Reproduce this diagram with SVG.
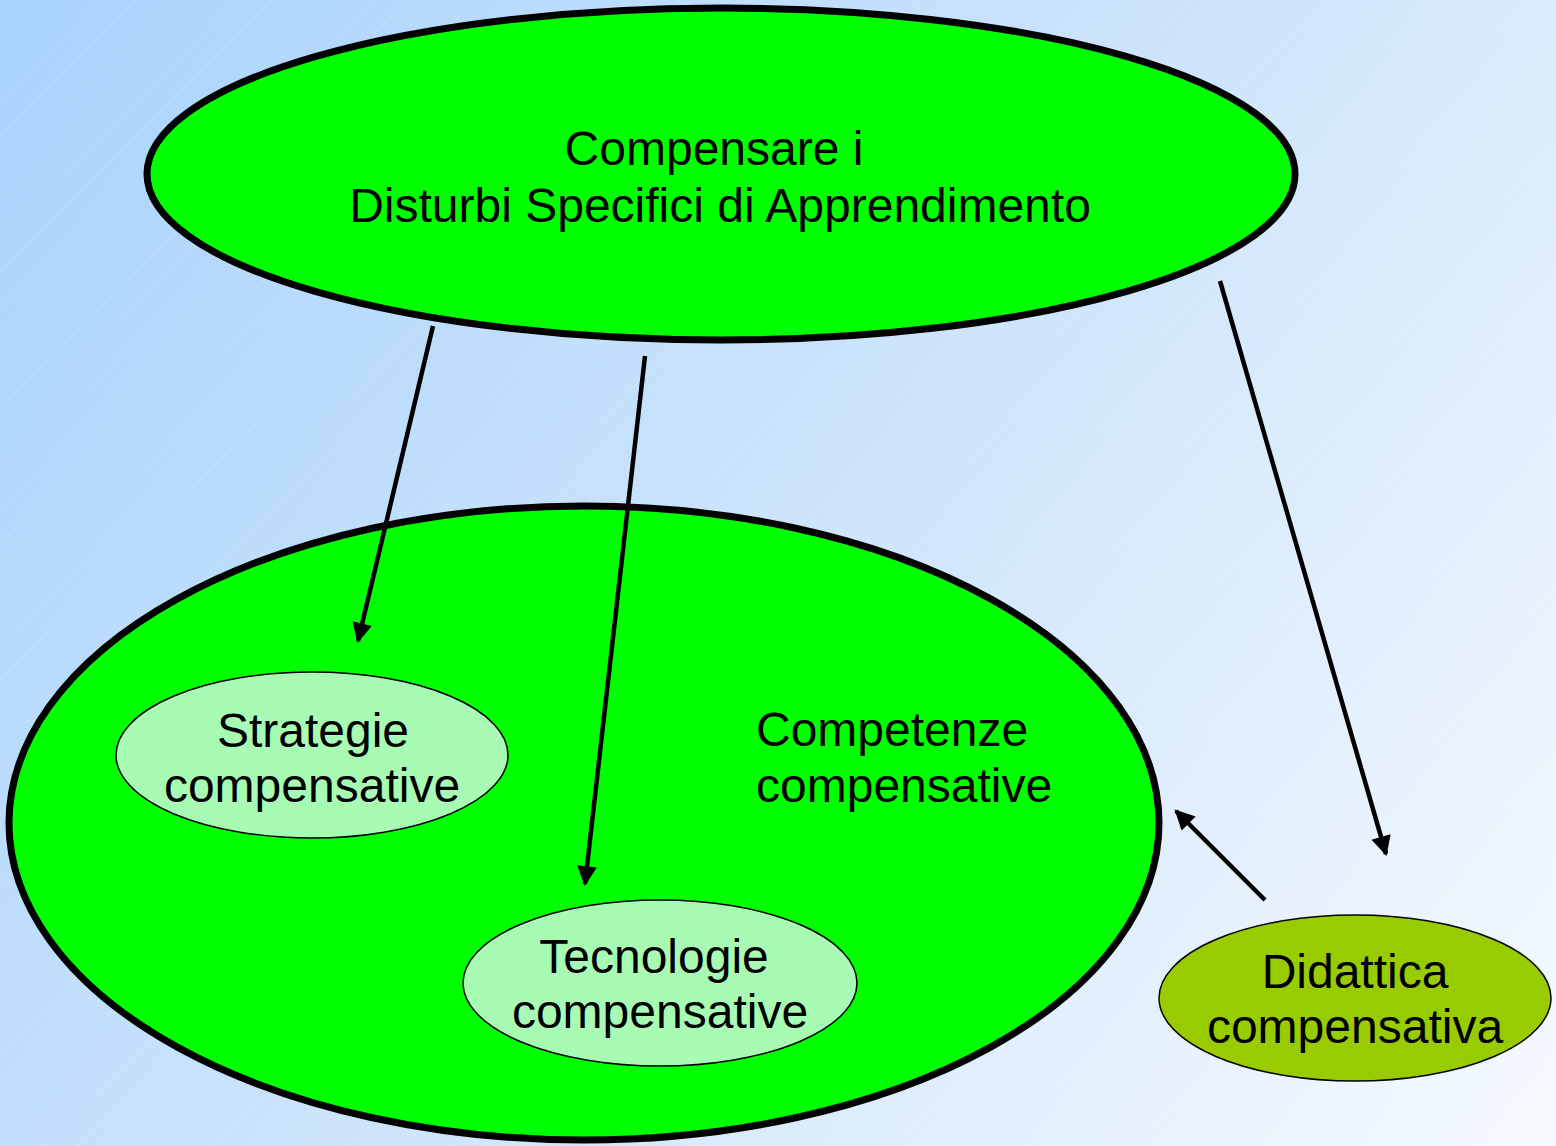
<svg xmlns="http://www.w3.org/2000/svg" width="1556" height="1146" viewBox="0 0 1556 1146">
<defs>
<linearGradient id="bg" x1="0" y1="0" x2="1556" y2="1146" gradientUnits="userSpaceOnUse">
<stop offset="0" stop-color="#A9D3FD"/>
<stop offset="0.5" stop-color="#CDE4FB"/>
<stop offset="1" stop-color="#F6FAFF"/>
</linearGradient>
<pattern id="hatch" width="34" height="34" patternUnits="userSpaceOnUse">
<path d="M-4,38 L38,-4" stroke="#FFFFFF" stroke-width="0.8" stroke-opacity="0.2"/>
</pattern>
<marker id="ah" viewBox="0 0 10 10" refX="9" refY="5" markerWidth="5" markerHeight="4.4" orient="auto" markerUnits="strokeWidth">
<path d="M0,0 L10,5 L0,10 Z" fill="#000"/>
</marker>
</defs>
<style>
.t{font-family:"Liberation Sans",Arial,sans-serif;font-size:48px;fill:#000;}
.c{text-anchor:middle;}
.big{fill:#00FF00;stroke:#000;stroke-width:7;}
.sub{fill:#A7FBB2;stroke:#000;stroke-width:1.5;}
.conn{stroke:#000;stroke-width:4.5;fill:none;marker-end:url(#ah);}
</style>
<rect width="1556" height="1146" fill="url(#bg)"/>
<rect width="1556" height="1146" fill="url(#hatch)"/>
<g id="competenze">
<ellipse class="big" cx="584" cy="823" rx="575" ry="317"/>
<text class="t" x="756" y="746">Competenze</text>
<text class="t" x="756" y="802">compensative</text>
</g>
<g id="compensare">
<ellipse class="big" cx="721" cy="174" rx="574" ry="166"/>
<text class="t c" x="714" y="165">Compensare i</text>
<text class="t c" x="720" y="222">Disturbi Specifici di Apprendimento</text>
</g>
<g id="strategie">
<ellipse class="sub" cx="312" cy="755" rx="196" ry="83"/>
<text class="t c" x="313" y="747">Strategie</text>
<text class="t c" x="312" y="802">compensative</text>
</g>
<g id="tecnologie">
<ellipse class="sub" cx="660" cy="983" rx="197" ry="83"/>
<text class="t c" x="654" y="973">Tecnologie</text>
<text class="t c" x="660" y="1028">compensative</text>
</g>
<g id="didattica">
<ellipse cx="1355" cy="998" rx="196" ry="83" fill="#99CC00" stroke="#000" stroke-width="1.5"/>
<text class="t c" x="1355" y="988">Didattica</text>
<text class="t c" x="1355" y="1043">compensativa</text>
</g>
<g id="connectors">
<line class="conn" x1="433" y1="326" x2="358" y2="641"/>
<line class="conn" x1="645" y1="356" x2="585" y2="884"/>
<line class="conn" x1="1220" y1="281" x2="1386" y2="854"/>
<line class="conn" x1="1265" y1="900" x2="1176" y2="811"/>
</g>
</svg>
